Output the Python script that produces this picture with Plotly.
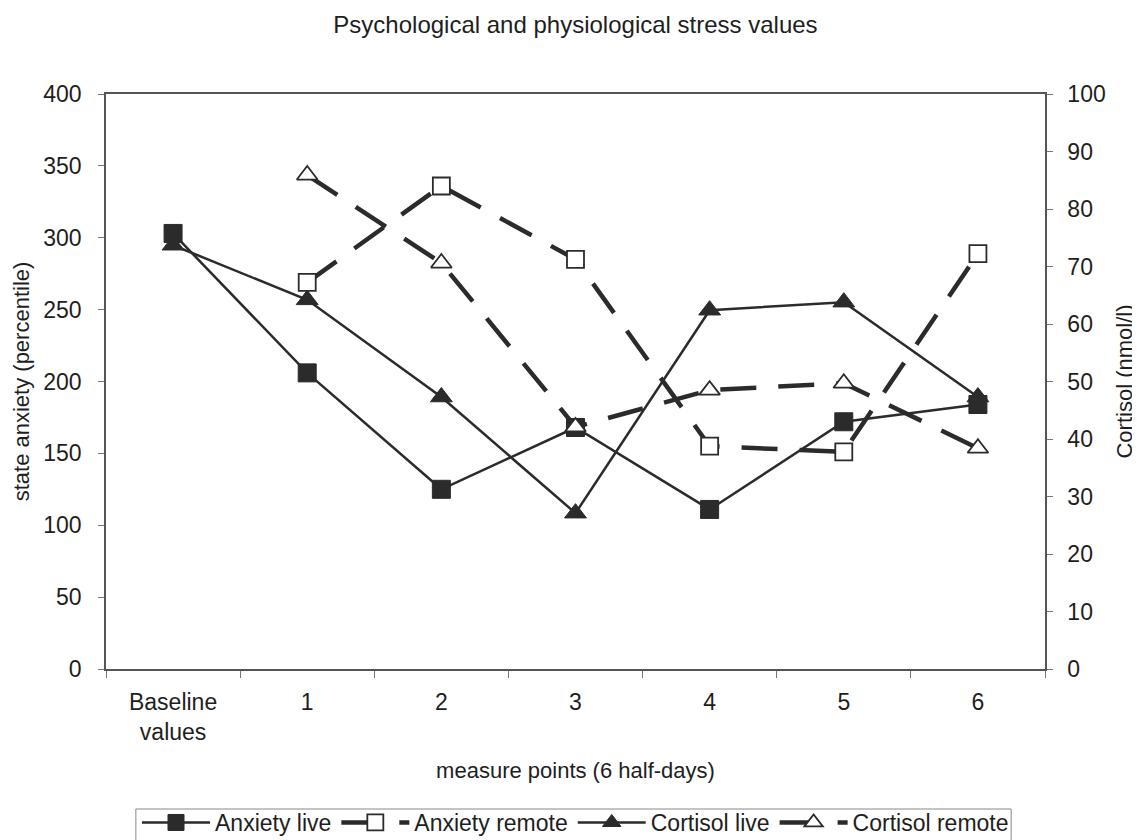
import plotly.graph_objects as go

categories = ["Baseline<br>values", "1", "2", "3", "4", "5", "6"]
anxiety_live = [303, 206, 125, 168, 111, 172, 184]
anxiety_remote = [None, 269, 336, 285, 155, 151, 289]
cortisol_live = [73.7, 64.2, 47.3, 27.1, 62.4, 63.8, 47.3]
cortisol_remote = [None, 85.9, 70.6, 42.1, 48.5, 49.7, 38.4]

INK = "#2b2b2b"
TXT = "#1e1e1e"
FONT = "Liberation Sans, Arial, sans-serif"

fig = go.Figure()
fig.add_trace(go.Scatter(
    x=categories, y=anxiety_live, name="Anxiety live", mode="lines+markers",
    line=dict(color=INK, width=2.5),
    marker=dict(symbol="square", size=18, color=INK, line=dict(color=INK, width=1))))
fig.add_trace(go.Scatter(
    x=categories, y=anxiety_remote, name="Anxiety remote", mode="lines+markers",
    line=dict(color=INK, width=4.5, dash="36px,22px"),
    marker=dict(symbol="square", size=17, color="white", line=dict(color=INK, width=1.8))))
fig.add_trace(go.Scatter(
    x=categories, y=cortisol_live, name="Cortisol live", mode="lines+markers", yaxis="y2",
    line=dict(color=INK, width=2.5),
    marker=dict(symbol="triangle-up", size=19, color=INK, line=dict(color=INK, width=1))))
fig.add_trace(go.Scatter(
    x=categories, y=cortisol_remote, name="Cortisol remote", mode="lines+markers", yaxis="y2",
    line=dict(color=INK, width=4.5, dash="36px,22px"),
    marker=dict(symbol="triangle-up", size=18, color="white", line=dict(color=INK, width=1.8))))

FIG_H = 880
PLOT_H = 575
fig.update_layout(
    width=1140, height=FIG_H,
    paper_bgcolor="white", plot_bgcolor="white",
    font=dict(family=FONT, size=23, color=TXT),
    margin=dict(l=94, r=103, t=86, b=FIG_H - 86 - PLOT_H),
    title=dict(text="Psychological and physiological stress values", x=0.5, xanchor="center",
               xref="paper", y=1 - 17 / FIG_H, yanchor="middle", font=dict(size=24, color=TXT)),
    xaxis=dict(
        type="category", range=[-0.5, 6.5], tickson="boundaries", ticks="outside", ticklen=7,
        tickcolor="#777", showline=True, linecolor="#555", linewidth=1.5, mirror=True,
        showgrid=False, zeroline=False, ticklabelstandoff=12,
        title=dict(text="measure points (6 half-days)", font=dict(size=22), standoff=18)),
    xaxis2=dict(
        overlaying="x", side="bottom", range=[-0.5, 6.5], tickmode="linear", tick0=-0.5, dtick=1,
        ticks="inside", ticklen=6, tickcolor="#777", showticklabels=False, showline=False,
        showgrid=False, zeroline=False),
    yaxis=dict(
        range=[0, 400], dtick=50, ticks="outside", ticklen=6, tickcolor="#777",
        showline=True, linecolor="#555", linewidth=1.5, showgrid=False, zeroline=False,
        ticklabelstandoff=12,
        title=dict(text="state anxiety (percentile)", font=dict(size=22), standoff=8)),
    yaxis2=dict(
        range=[0, 100], dtick=10, overlaying="y", side="right", ticks="outside", ticklen=6,
        tickcolor="#777", showline=True, linecolor="#555", linewidth=1.5, showgrid=False,
        zeroline=False, ticklabelstandoff=10,
        title=dict(text="Cortisol (nmol/l)", font=dict(size=22), standoff=12)),
    yaxis3=dict(
        range=[0, 400], dtick=50, overlaying="y", side="left", ticks="inside", ticklen=6,
        tickcolor="#777", showticklabels=False, showline=False, showgrid=False, zeroline=False),
    yaxis4=dict(
        range=[0, 100], dtick=10, overlaying="y", side="right", ticks="inside", ticklen=6,
        tickcolor="#777", showticklabels=False, showline=False, showgrid=False, zeroline=False),
    legend=dict(
        orientation="h", x=0.5, xanchor="center", y=-0.2296, yanchor="top",
        borderwidth=0, font=dict(size=23), itemwidth=68,
        tracegroupgap=0, traceorder="normal", bgcolor="rgba(0,0,0,0)"),
    shapes=[dict(
        type="rect", xref="paper", yref="paper",
        x0=(132 - 102) / 943, x1=(1011 - 102) / 943,
        y0=-(809 - 669) / PLOT_H, y1=-(860 - 669) / PLOT_H,
        line=dict(color="#888", width=1), fillcolor="rgba(0,0,0,0)", layer="below")],
    showlegend=True,
)

fig.write_html("out.html")
